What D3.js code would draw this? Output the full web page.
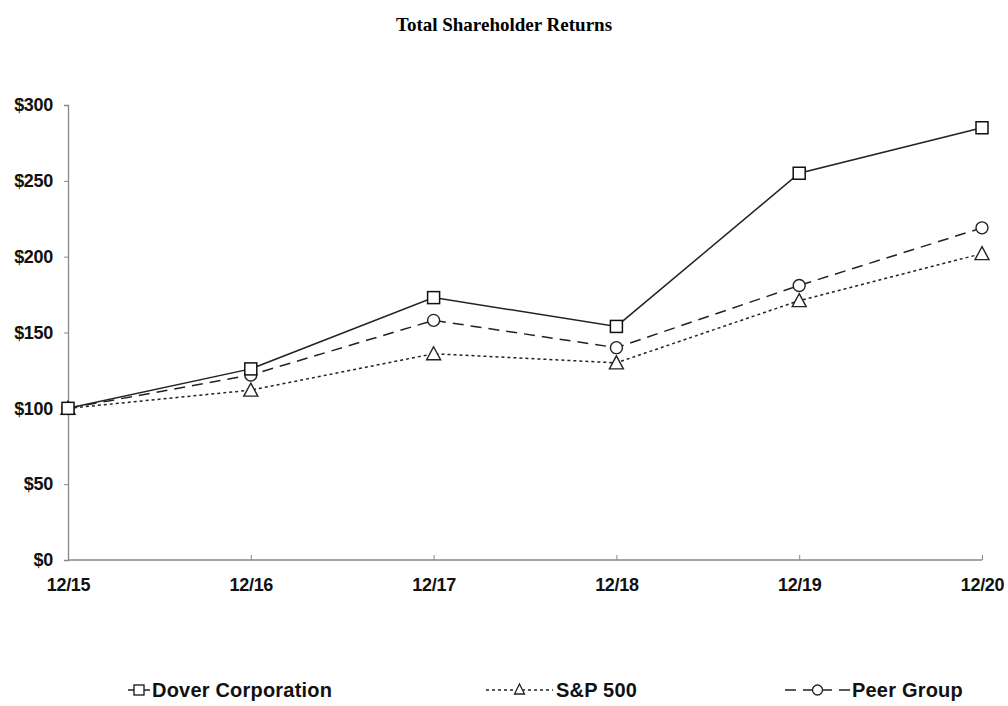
<!DOCTYPE html>
<html><head><meta charset="utf-8">
<script src="https://cdn.jsdelivr.net/npm/d3@7"></script>
<style>body{margin:0;background:#fff}</style>
</head><body>
<svg id="c" width="1008" height="706"></svg>
<script>
const categories = ["12/15","12/16","12/17","12/18","12/19","12/20"];
const dover = [100, 126, 173, 154, 255, 285];
const sp500 = [100, 112, 136, 130, 171, 202];
const peer = [100, 122, 158, 140, 181, 219];
const yTicks = [0, 50, 100, 150, 200, 250, 300];
const seriesNames = ["Dover Corporation", "S&P 500", "Peer Group"];

const svg = d3.select("#c");
const x = d3.scalePoint().domain(categories).range([68, 982]);
const y = d3.scaleLinear().domain([0, 300]).range([560, 105]);

svg.append("text").attr("x", 504).attr("y", 31).attr("text-anchor", "middle")
  .style("font-family", "'Liberation Serif','Times New Roman',serif").style("font-weight", "bold")
  .style("font-size", "19px").text("Total Shareholder Returns");

const fontAx = "'Liberation Sans',Arial,sans-serif";

const yAxis = svg.append("g").attr("transform", "translate(68,0)")
  .call(d3.axisLeft(y).tickValues(yTicks).tickSize(4).tickPadding(11).tickFormat(d => "$" + d));
const xAxis = svg.append("g").attr("transform", "translate(0,560)")
  .call(d3.axisBottom(x).tickSize(-5).tickPadding(18));
[yAxis, xAxis].forEach(g => {
  g.select(".domain").attr("stroke", "#888").attr("stroke-width", 1.3);
  g.selectAll(".tick line").attr("stroke", "#888");
  g.selectAll("text").style("font-family", fontAx).style("font-weight", "bold")
    .style("font-size", "18px").style("letter-spacing", "-0.3px").attr("fill", "#111");
});
xAxis.select(".domain").attr("d", "M68,0H982");

const series = [
  {name: seriesNames[0], values: dover, dash: null, sym: "square"},
  {name: seriesNames[1], values: sp500, dash: "3,3", sym: "triangle"},
  {name: seriesNames[2], values: peer, dash: "11,7", sym: "circle"}
];

function marker(g, type, cx, cy) {
  if (type === "square") {
    g.append("rect").attr("x", cx - 6).attr("y", cy - 6).attr("width", 12).attr("height", 12)
      .attr("fill", "#fff").attr("stroke", "#111").attr("stroke-width", 1.5);
  } else if (type === "circle") {
    g.append("circle").attr("cx", cx).attr("cy", cy).attr("r", 6)
      .attr("fill", "#fff").attr("stroke", "#222").attr("stroke-width", 1.4);
  } else {
    g.append("path").attr("d", `M${cx},${cy-7}L${cx+7},${cy+6}L${cx-7},${cy+6}Z`)
      .attr("fill", "#fff").attr("stroke", "#222").attr("stroke-width", 1.4);
  }
}

const line = d3.line().x((d, i) => x(categories[i])).y(d => y(d));
[...series].reverse().forEach(s => {
  svg.append("path").datum(s.values).attr("d", line).attr("fill", "none")
    .attr("stroke", "#222").attr("stroke-width", 1.5).attr("stroke-dasharray", s.dash);
});
[...series].reverse().forEach(s => {
  const g = svg.append("g");
  s.values.forEach((v, i) => marker(g, s.sym, x(categories[i]), y(v)));
});

// legend
const legendPos = [{x0: 128, x1: 150, tx: 152}, {x0: 486, x1: 553, tx: 556}, {x0: 785, x1: 850, tx: 852}];
series.forEach((s, i) => {
  const p = legendPos[i];
  const g = svg.append("g");
  g.append("line").attr("x1", p.x0).attr("x2", p.x1).attr("y1", 690).attr("y2", 690)
    .attr("stroke", "#222").attr("stroke-width", 1.5).attr("stroke-dasharray", s.dash);
  const cx = (p.x0 + p.x1) / 2;
  if (s.sym === "square") {
    g.append("rect").attr("x", cx - 5).attr("y", 685).attr("width", 10).attr("height", 10)
      .attr("fill", "#fff").attr("stroke", "#111").attr("stroke-width", 1.3);
  } else if (s.sym === "circle") {
    g.append("circle").attr("cx", cx).attr("cy", 690).attr("r", 5)
      .attr("fill", "#fff").attr("stroke", "#222").attr("stroke-width", 1.3);
  } else {
    g.append("path").attr("d", `M${cx},${684}L${cx+5},${694}L${cx-5},${694}Z`)
      .attr("fill", "#fff").attr("stroke", "#222").attr("stroke-width", 1.3);
  }
  g.append("text").attr("x", p.tx).attr("y", 697).text(s.name)
    .style("font-family", fontAx).style("font-weight", "bold").style("font-size", "20px")
    .style("letter-spacing", "0.2px").attr("fill", "#111");
});
</script>
</body></html>
